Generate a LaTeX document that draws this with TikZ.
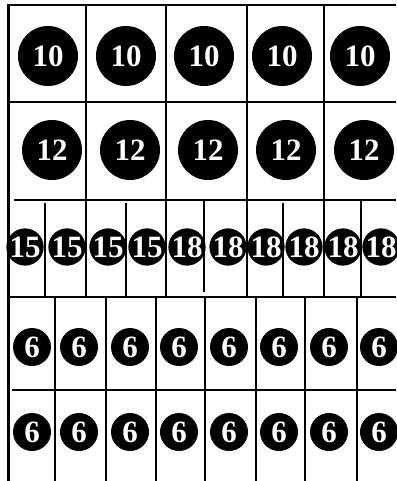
\documentclass[tikz,border=0pt]{standalone}
\usepackage{fontspec}
\setmainfont{Liberation Serif}
\begin{document}
\begin{tikzpicture}[x=1pt,y=-1pt,
  gridline/.style={line width=2.2pt, black},
  bigdisc/.style={circle, fill=black, text=white, minimum size=60pt, inner sep=0pt,
    font=\fontsize{31}{31}\selectfont\bfseries},
  middisc/.style={bigdisc, minimum size=37pt},
  smalldisc/.style={bigdisc, minimum size=38pt}]
\useasboundingbox[fill=white] (0,0) rectangle (396,481);
% horizontal lines
\draw[gridline] (8,5) -- (396,5);
\draw[gridline] (8,102) -- (396,102);
\draw[gridline] (14,200) -- (396,200);
\draw[gridline] (8,297) -- (396,297);
\draw[gridline] (12,390) -- (396,390);
% left border
\draw[gridline] (8.5,4) -- (8.5,481);
% long verticals rows 1-3
\foreach \x in {86,166,247,324} \draw[gridline] (\x,5) -- (\x,297);
% row 3 extra verticals
\foreach \x in {45,126,283} \draw[gridline] (\x,203) -- (\x,297);
\draw[gridline] (204,199) -- (204,292);
\draw[gridline] (361,200) -- (361,297);
% rows 4-5 verticals
\foreach \x in {55,106,156,205,256,305,357} \draw[gridline] (\x,297) -- (\x,481);
% row 1
\foreach \x [count=\i] in {48,126,204,282,360}
  \node[bigdisc] (a\i) at (\x,56) {10};
% row 2
\foreach \x [count=\i] in {52,130,208,286,364}
  \node[bigdisc] (b\i) at (\x,150) {12};
% row 3
\foreach \x/\t [count=\i] in {25/15,67/15,108/15,147/15,187/18,228/18,266/18,304/18,343/18,381/18}
  \node[middisc] (c\i) at (\x,247) {\t};
% rows 4 and 5
\foreach \x [count=\i] in {32,79,130,179,229,279,329,379}{
  \node[smalldisc] (d\i) at (\x,347) {6};
  \node[smalldisc] (e\i) at (\x,432) {6};
}
\end{tikzpicture}
\end{document}
